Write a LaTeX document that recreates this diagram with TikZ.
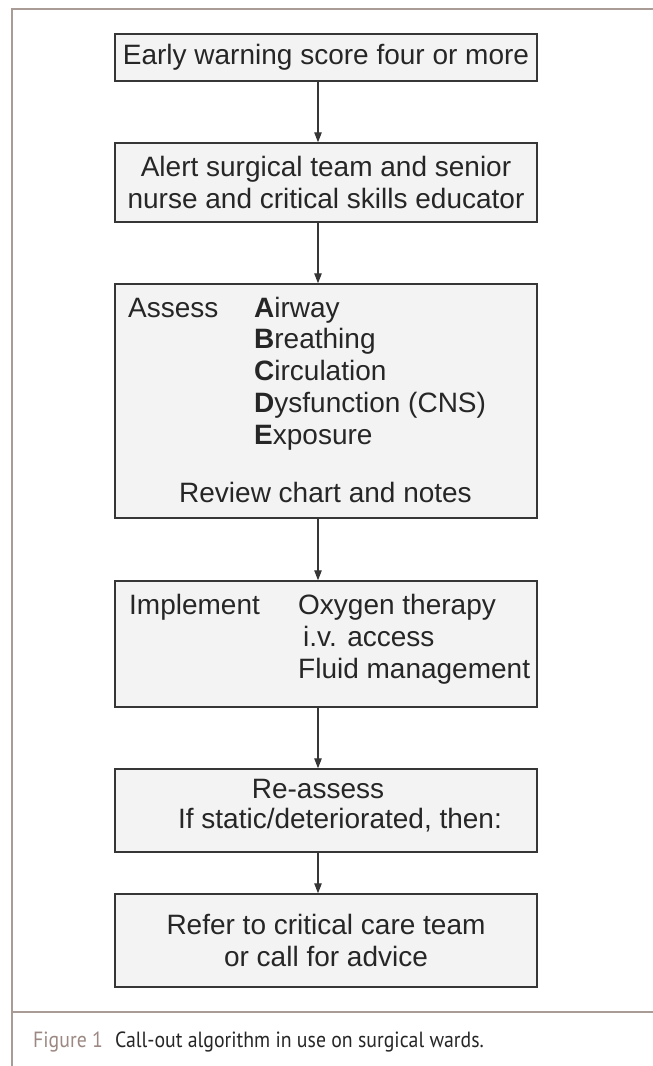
\documentclass[tikz,border=0pt]{standalone}
\usepackage{fontspec}
\setmainfont{Liberation Sans}
\newfontfamily\capfont[FakeStretch=0.9]{PT Sans}
\usepackage{xcolor}
\usepackage{tikz}
\usetikzlibrary{arrows.meta}
\definecolor{ink}{HTML}{262626}
\definecolor{edge}{HTML}{363636}
\definecolor{boxfill}{HTML}{F3F3F3}
\definecolor{rule}{HTML}{A99C96}
\definecolor{figlab}{HTML}{9C8882}
\tikzset{
  stepbox/.style={draw=edge, fill=boxfill, line width=1.5pt, minimum width=422pt, inner sep=0pt, text=ink, font=\fontsize{28}{31.5}\selectfont, align=center},
  txt/.style={text=ink, font=\fontsize{28}{31.5}\selectfont, inner sep=0pt, anchor=base west},
  txtc/.style={txt, anchor=base},
  flow/.style={draw=edge, line width=1.3pt, -{Triangle[length=10pt,width=7.5pt]}},
  frame/.style={draw=rule, line width=1.2pt},
}
\begin{document}
\begin{tikzpicture}[x=1pt,y=-1pt]
  \useasboundingbox (0,0) rectangle (653,1066);
  % page frame
  \draw[frame] (653,9) -- (12,9) -- (12,1066);
  \draw[frame] (12,1012) -- (653,1012);

  % boxes
  \node[stepbox, minimum height=47pt] (early) at (326,57.5) {Early warning score four or more};
  \node[stepbox, minimum height=79pt] (alert) at (326,182.5) {Alert surgical team and senior\\nurse and critical skills educator};
  \node[stepbox, minimum height=234pt] (assess) at (326,401) {};
  \node[stepbox, minimum height=126pt] (implement) at (326,644) {};
  \node[stepbox, minimum height=83pt] (reassess) at (326,810.5) {};
  \node[stepbox, minimum height=93pt] (refer) at (326,940.5) {Refer to critical care team\\or call for advice};

  % assess box text
  \node[txt] (assesslab) at (128,317) {Assess};
  \foreach \ltr/\rest [count=\i from 0] in {A/irway, B/reathing, C/irculation, D/ysfunction (CNS), E/xposure}
    \node[txt] (abcde\i) at (254,{317+31.8*\i}) {\textbf{\ltr}\rest};
  \node[txt] (review) at (179,502) {Review chart and notes};

  % implement box text
  \node[txt] (implab) at (129,614) {Implement};
  \node[txt] (oxygen) at (298,614) {Oxygen therapy};
  \node[txt] (iv) at (303,646) {i.v. access};
  \node[txt] (fluid) at (298,678) {Fluid management};

  % re-assess box text
  \node[txtc] (reas) at (318,798) {Re-assess};
  \node[txtc] (static) at (340,828) {If static/deteriorated, then:};

  % arrows
  \coordinate (ax) at (318,0);
  \draw[flow] (early.south -| ax) -- (alert.north -| ax);
  \draw[flow] (alert.south -| ax) -- (assess.north -| ax);
  \draw[flow] (assess.south -| ax) -- (implement.north -| ax);
  \draw[flow] (implement.south -| ax) -- (reassess.north -| ax);
  \draw[flow] (reassess.south -| ax) -- (refer.north -| ax);

  % caption
  \node[anchor=base west, inner sep=0pt, font=\capfont\fontsize{22}{26}\selectfont] (caption) at (33,1047)
    {\textcolor{figlab}{Figure 1}\hspace{0.55em}\textcolor{ink}{Call-out algorithm in use on surgical wards.}};
\end{tikzpicture}
\end{document}
